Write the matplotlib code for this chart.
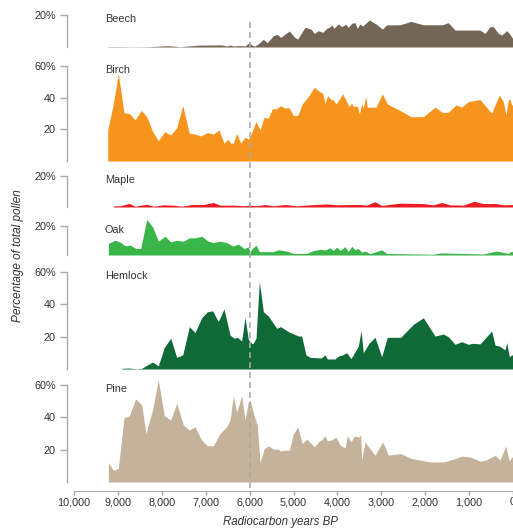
import matplotlib
matplotlib.use("Agg")
import matplotlib.pyplot as plt

plt.rcParams['font.family'] = ['Liberation Sans', 'DejaVu Sans']

# pollen percentages (years BP, % of total pollen)
beech_years = [9232, 8952, 8648, 8306, 7851, 7585, 7130, 6637, 6522, 6446, 6371, 6219, 6105, 6030,
               5991, 5940, 5880, 5800, 5687, 5597, 5460, 5369, 5292, 5096, 4966, 4905, 4738, 4601,
               4526, 4435, 4335, 4243, 4183, 4130, 4077, 4032, 3979, 3903, 3811, 3751, 3675, 3599,
               3546, 3485, 3424, 3356, 3273, 3121, 2977, 2878, 2574, 2323, 2043, 1602, 1474, 1321,
               752, 638, 524, 448, 334, 258, 144, 84, 0]
beech_pct = [0.2, 0.2, 0.1, 0.2, 0.8, 0.2, 1.2, 1.3, 0.6, 1.2, 0.6, 0.9, 0.6, 2.3,
             2.3, 1.0, 0.6, 2.0, 4.8, 2.7, 7.1, 7.9, 6.0, 10.0, 5.8, 5.0, 12.3, 11.2,
             8.5, 10.2, 9.2, 11.7, 12.3, 13.8, 11.7, 13.1, 14.4, 12.7, 14.2, 12.3, 14.8, 15.2,
             11.7, 14.4, 13.1, 14.8, 16.9, 14.4, 11.2, 13.8, 13.9, 16.0, 13.9, 13.9, 15.2, 10.6,
             10.6, 8.5, 12.7, 12.7, 8.5, 7.5, 10.2, 8.5, 5.0]

birch_years = [9232, 9119, 8991, 8861, 8740, 8610, 8467, 8344, 8208, 8080, 7934, 7797, 7661, 7524,
               7373, 7244, 7107, 6963, 6827, 6697, 6583, 6499, 6424, 6371, 6294, 6203, 6105, 6030,
               5991, 5854, 5763, 5672, 5574, 5483, 5383, 5292, 5210, 5096, 5005, 4905, 4800, 4663,
               4526, 4412, 4335, 4282, 4221, 4153, 4093, 4032, 3941, 3880, 3811, 3736, 3675, 3637,
               3576, 3538, 3501, 3447, 3410, 3356, 3319, 3121, 2977, 2863, 2597, 2323, 2043, 1777,
               1602, 1474, 1299, 1170, 1020, 752, 486, 410, 312, 221, 159, 106, 68, 30, 0]
birch_pct = [19.6, 34, 55, 30.5, 30, 26, 32, 28, 18.5, 12.8, 18.5, 16.5, 21, 35,
             17.5, 17, 15.8, 18, 17, 19.6, 11.2, 13.7, 11.2, 11.2, 17.5, 11.2, 15, 13.7,
             15.4, 24.9, 19.6, 27.6, 27, 33, 33, 35, 33.5, 33.6, 28.7, 28.7, 36, 40.7,
             46.6, 43.9, 42.8, 36.5, 41.3, 39, 38.6, 36, 39.7, 42.4, 38.6, 34.4, 36.5, 34.4,
             34.8, 34, 29.7, 36, 33.6, 40.7, 34, 34, 42.4, 36, 32.3, 28, 28, 34,
             30.6, 30.8, 35.4, 34, 37.5, 38.8, 30.2, 35.4, 41.6, 37.5, 29, 38.6, 39, 35.4, 35.4]

maple_years = [9104, 8952, 8740, 8610, 8344, 8193, 7965, 7738, 7547, 7320, 7054, 6827, 6675, 6371,
               6144, 5991, 5838, 5649, 5460, 5194, 4928, 4624, 4244, 4016, 3713, 3485, 3334, 3144,
               2992, 2574, 2043, 1815, 1624, 1435, 1131, 888, 676, 410, 221, 0]
maple_pct = [0.8, 0.8, 2.3, 0.5, 1.8, 0.5, 1.4, 1.2, 0.5, 1.6, 1.6, 2.9, 1.2, 1.2,
             0.8, 1.2, 0.8, 1.6, 0.8, 1.6, 0.8, 1.4, 2.0, 1.4, 1.6, 1.6, 1.2, 3.4,
             1.0, 2.5, 2.2, 1.4, 2.9, 1.4, 1.2, 3.7, 2.2, 2.3, 1.4, 1.6]

oak_years = [9218, 9066, 8952, 8838, 8724, 8588, 8481, 8344, 8208, 8080, 7927, 7797, 7661, 7510,
             7373, 7244, 7092, 6940, 6827, 6675, 6522, 6385, 6258, 6128, 6030, 5991, 5953, 5854,
             5779, 5460, 5346, 5156, 5005, 4700, 4549, 4397, 4282, 4169, 4093, 4016, 3941, 3827,
             3751, 3675, 3599, 3523, 3447, 3371, 3257, 2992, 2878, 1815, 1663, 1131, 676, 372,
             106, 30, 0]
oak_pct = [8, 10.2, 9, 6.3, 6.8, 4.5, 4.5, 24.5, 19.3, 9.5, 12.9, 9, 10.2, 9.5,
           11.8, 11.8, 12.9, 9.5, 8.6, 9.5, 8.6, 6.1, 7.5, 4.5, 5.7, 1.8, 4, 6.8,
           2.3, 2.3, 3.6, 2.7, 1.1, 1.1, 3, 4, 3.4, 5, 3.2, 5.4, 3.2, 5.7,
           2.3, 6, 3.6, 4.5, 1.8, 2.7, 0.9, 3.6, 1.1, 0.5, 1.4, 1.1, 0.7, 2.7,
           1.1, 2.7, 1.4]

hemlock_years = [8914, 8763, 8572, 8458, 8344, 8208, 8080, 7943, 7797, 7661, 7524, 7373, 7244, 7092,
                 6963, 6842, 6714, 6583, 6446, 6355, 6279, 6181, 6105, 6030, 5991, 5930, 5854, 5779,
                 5687, 5574, 5383, 5292, 5118, 4891, 4815, 4716, 4624, 4374, 4282, 4229, 4055, 3979,
                 3888, 3789, 3690, 3523, 3462, 3410, 3280, 3144, 2992, 2863, 2559, 2270, 2043, 1777,
                 1587, 1474, 1321, 1170, 1020, 906, 752, 486, 410, 312, 182, 144, 84, 30, 0]
hemlock_pct = [0.4, 0.6, 0.1, 0.4, 2.3, 4.3, 1.9, 13.4, 19, 7.2, 8.7, 26.2, 22.5, 31.7,
               35.4, 36, 29.3, 37.1, 21, 19, 19.6, 17.3, 32, 18.4, 16.9, 15.5, 19, 54,
               35.4, 32.8, 25.2, 26.2, 23.1, 20.4, 20.4, 8.7, 7.2, 6.8, 8.7, 6.2, 6.2, 8,
               8.7, 10.1, 6.4, 14.2, 23.7, 10.1, 15.9, 19.6, 7.6, 19.6, 19.6, 27.6, 31.7, 20.4,
               21.6, 20, 15.3, 16.9, 15.3, 15.9, 15.5, 23.5, 14.8, 14.2, 11.8, 16.3, 7.6, 8.7, 8.7]

pine_years = [9218, 9104, 8991, 8861, 8740, 8595, 8458, 8360, 8208, 8080, 7943, 7797, 7661, 7510,
              7373, 7244, 7092, 6963, 6827, 6675, 6522, 6446, 6371, 6294, 6181, 6105, 6030, 5991,
              5900, 5824, 5763, 5672, 5574, 5460, 5346, 5292, 5232, 5096, 5005, 4905, 4800, 4700,
              4526, 4435, 4359, 4282, 4229, 4130, 4032, 3941, 3827, 3774, 3690, 3614, 3501, 3470,
              3447, 3371, 3319, 3144, 2969, 2840, 2559, 2308, 1891, 1587, 1360, 1170, 980, 752,
              600, 410, 296, 166, 84, 30, 0]
pine_pct = [12, 7.3, 8.3, 39.8, 41, 51.4, 47.6, 30, 45, 63.2, 41, 38.3, 48.7, 35.2,
            32.1, 34.2, 25.9, 22.4, 22.4, 30, 34.2, 38.3, 53.4, 43.1, 53.4, 38.3, 49.3, 50.7,
            41.4, 35.2, 12, 20.3, 22.4, 20.3, 20.3, 19.1, 19.7, 19.7, 29.4, 34.2, 23.8, 26.5,
            21.7, 24.8, 26, 28.6, 25.4, 26, 27.8, 22.8, 21.1, 28.6, 24.8, 28.4, 27.8, 29.4,
            13.5, 24.8, 22.8, 16.6, 24.8, 16.6, 17.6, 14.5, 12.4, 12.4, 14.1, 16, 15.5, 12.9,
            13.7, 16.6, 13.5, 22.2, 12.9, 15.3, 15.7]

names = ['Beech', 'Birch', 'Maple', 'Oak', 'Hemlock', 'Pine']
years = [beech_years, birch_years, maple_years, oak_years, hemlock_years, pine_years]
values = [beech_pct, birch_pct, maple_pct, oak_pct, hemlock_pct, pine_pct]
colors = ['#736657', '#F7941D', '#ED1C24', '#3AB54A', '#0F6A37', '#C4B39A']
ytops = [20, 60, 20, 20, 60, 60]
# panel extents in pixels (top tick, baseline)
panel_px = [(15, 47), (66, 161), (176, 207), (226, 255), (272, 369), (385, 482)]

W, H = 513, 528
fig = plt.figure(figsize=(W / 100, H / 100), dpi=100)
grey = '#aaaaaa'
txt = '#333333'
left = 67

axes = []
for name, xs, ys, col, top, (pt, pb) in zip(names, years, values, colors, ytops, panel_px):
    ax = fig.add_axes([left / W, 1 - pb / H, (W - left) / W, (pb - pt) / H])
    ax.patch.set_alpha(0)
    ax.fill_between(xs, ys, 0, color=col, lw=0, clip_on=False)
    ax.set_xlim(10160, 0)
    ax.set_ylim(0, top)
    for s in ['top', 'right', 'bottom']:
        ax.spines[s].set_visible(False)
    ax.spines['left'].set_color(grey)
    ax.spines['left'].set_linewidth(1.0)
    ticks = list(range(20, top + 1, 20))
    ax.set_yticks(ticks)
    ax.set_yticklabels([f'{t}%' if t == top else f'{t}' for t in ticks])
    ax.tick_params(axis='y', length=5, width=1.0, color=grey, labelsize=7.8,
                   labelcolor=txt, pad=3)
    ax.set_xticks([])
    ax.annotate(name, xy=(0.085, 1), xycoords='axes fraction', xytext=(0, -4),
                textcoords='offset pixels', va='center', ha='left', fontsize=7.8, color=txt)
    axes.append(ax)

# x axis on the bottom panel, set 9 px below the pine baseline
axp = axes[-1]
axp.spines['bottom'].set_visible(True)
axp.spines['bottom'].set_position(('outward', 6.5))
axp.spines['bottom'].set_bounds(10000, 0)
axp.spines['bottom'].set_color(grey)
xt = list(range(10000, -1, -1000))
axp.set_xticks(xt)
axp.set_xticklabels([f'{t:,}' for t in xt])
axp.tick_params(axis='x', length=3, width=1.0, color=grey, labelsize=7.8,
                labelcolor=txt, pad=1.5)

fig.text(280 / W, 1 - 522 / H, 'Radiocarbon years BP', fontsize=8.3, style='italic',
         color=txt, ha='center', va='center')

# dashed reference line at 6,000 BP across all panels
ov = fig.add_axes([left / W, 0, (W - left) / W, 1])
ov.set_xlim(10160, 0)
ov.set_ylim(H, 0)
ov.axis('off')
ov.axvline(6000, ymin=1 - 488 / H, ymax=1 - 20 / H, color=grey, lw=1.2, ls=(0, (3.5, 2.5)))

fig.text(18 / W, 1 - 256 / H, 'Percentage of total pollen', rotation=90, fontsize=8.5,
         style='italic', color=txt, ha='center', va='center')

fig.savefig('out.png', dpi=100)
